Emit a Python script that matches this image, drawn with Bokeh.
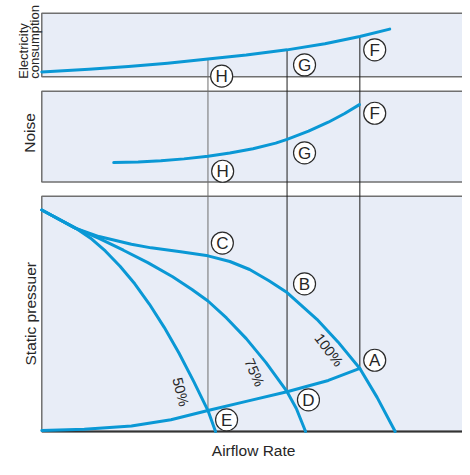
import numpy as np
from bokeh.plotting import figure
from bokeh.models import Range1d
from bokeh.core.properties import value
from bokeh.embed import file_html
from bokeh.resources import INLINE

# ---------------- data (airflow in % of panel width, values in % of panel height) -------------
elec_flow = [0, 11.2, 20.6, 29.9, 39.5, 48.6, 58.3, 67.3, 75.6, 82.7]
elec_val = [7.6, 11.9, 16.3, 21.5, 28.2, 34.4, 42.5, 52.1, 63.5, 75.2]

noise_flow = [17.1, 22.9, 28.3, 33.8, 39.5, 44.7, 50.2, 55.6, 58.3, 63.4, 68.1, 72.0, 75.5]
noise_val = [21.3, 21.9, 23.3, 25.4, 28.4, 31.8, 36.6, 42.8, 47.0, 56.0, 65.9, 75.5, 85.3]

p100_flow = [0, 8.1, 13.6, 21.3, 26.0, 33.0, 39.5, 44.7, 49.4, 54.0, 58.3, 65.4, 70.4, 75.6, 79.7, 84.0]
p100_val = [94.2, 86.4, 82.9, 79.6, 78.1, 76.4, 74.7, 72.3, 68.9, 64.1, 59.1, 47.7, 38.1, 26.8, 14.5, 0]

p75_flow = [0, 8.1, 13.6, 19.4, 25.2, 31.1, 35.7, 39.5, 43.9, 48.6, 53.3, 58.3, 60.5, 62.7]
p75_val = [94.2, 86.4, 82.1, 77.1, 71.8, 65.8, 60.4, 55.5, 48.3, 39.5, 29.3, 16.9, 9.8, 0]

p50_flow = [0, 8.1, 11.6, 15.1, 18.6, 22.1, 25.6, 29.1, 32.6, 36.1, 39.5, 41.3]
p50_val = [94.2, 86.4, 82.2, 76.8, 70.3, 62.8, 54.1, 44.3, 33.4, 21.3, 8.9, 0]

sys_flow = [0, 10.1, 21.3, 30.7, 39.5, 48.6, 58.3, 68.1, 75.6]
sys_val = [0.4, 0.95, 2.3, 5.0, 8.9, 12.8, 16.9, 21.7, 26.8]

# operating points (columns H/E, G/D, F/A)
op_flow = [39.5, 58.3, 75.6]
op_elec = [28.2, 42.5, 63.5]
op_pressure = [8.9, 16.9, 26.8]

# texts
p1_letters = ["H", "G", "F"]
p2_letters = ["F", "G", "H"]
p3_letters = ["C", "B", "A", "D", "E"]
pct_labels = ["100%", "75%", "50%"]
panel_titles = ["Noise", "Static pressuer"]
elec_title = ["Electricity", "consumption"]
x_title = "Airflow Rate"

# ---------------- layout (reference drawing units: 470 x 475) ---------------------------------
W, H = 462, 459
PX = 4.28                      # drawing units per airflow unit
X0 = -42 / PX
P1 = (396.0, 461.7)            # composite y extents of the panels
P2 = (287.3, 381.0)
P3 = (29.0, 272.3)


def Y(panel, v):
    lo, hi = panel
    return [lo + vv / 100.0 * (hi - lo) for vv in np.atleast_1d(v)]


def FX(px):   # drawing x -> flow units
    return (px - 42) / PX


def CY(py):   # drawing y (from top) -> composite y
    return 475 - py


BLUE = "#0a98d5"
BG = "#e8edf7"
FRAME = "#707070"
TXT = "#262626"
FONT = value("Liberation Sans")

p = figure(width=W, height=H, x_range=Range1d(X0, X0 + 470 / PX), y_range=Range1d(0, 475),
           output_backend="svg", toolbar_location=None, x_axis_type=None, y_axis_type=None,
           min_border=0, outline_line_color=None)

# panel backgrounds
for pan in (P1, P2, P3):
    p.quad(left=[0], right=[130], bottom=[pan[0]], top=[pan[1]], fill_color=BG,
           line_color=FRAME, line_width=1.5)
p.segment(x0=[0], y0=[P3[0]], x1=[130], y1=[P3[0]], line_color="#333333", line_width=2)

# vertical operating lines
p.segment(x0=op_flow, x1=op_flow, y0=Y(P1, op_elec), y1=Y(P3, op_pressure),
          line_color=["#6f6f6f", "#1e1e1e", "#1e1e1e"], line_width=1)

# curves
kw = dict(line_color=BLUE, line_width=3, line_cap="round", line_join="round")
p.line(elec_flow, Y(P1, elec_val), **kw)
p.line(noise_flow, Y(P2, noise_val), **kw)
p.line(p100_flow, Y(P3, p100_val), **kw)
p.line(p75_flow, Y(P3, p75_val), **kw)
p.line(p50_flow, Y(P3, p50_val), **kw)
p.line(sys_flow, Y(P3, sys_val), **kw)

# circled letters
circ_x = ([FX(225), FX(309.3), FX(380.7)] + [FX(380.7), FX(309.3), FX(226)] +
          [FX(225.7), FX(309.3), FX(380.7), FX(313.3), FX(230)])
circ_y = ([CY(78.3), CY(66.7), CY(51)] + [CY(116.7), CY(157.7), CY(176.7)] +
          [CY(251), CY(293.3), CY(372.3), CY(413.3), CY(434)])
letters = p1_letters + p2_letters + p3_letters
p.scatter(circ_x, circ_y, marker="circle", size=22, fill_color="white",
          line_color="#2a2a2a", line_width=1.2)
p.text(circ_x, [y - 0.6 for y in circ_y], text=letters, text_font=FONT, text_font_size="17px",
       text_align="center", text_baseline="middle", text_color=TXT)

# percentage labels
p.text([FX(334), FX(258.3), FX(183.3)], [CY(361.7), CY(385), CY(405)], text=pct_labels,
       angle=list(np.deg2rad([-53, -66, -76])), text_font=FONT, text_font_size="14.5px",
       text_align="center", text_baseline="middle", text_color=TXT)

# axis titles
p.text([FX(29), FX(31)], [CY(137), CY(324.2)], text=panel_titles, angle=[np.pi / 2] * 2,
       text_font=FONT, text_font_size="15.5px", text_align="center", text_baseline="middle",
       text_color=TXT)
p.text([FX(23.5), FX(34.5)], [CY(81), CY(81)], text=elec_title, angle=[np.pi / 2] * 2,
       text_font=FONT, text_font_size="13px", text_align="left", text_baseline="alphabetic",
       text_color=TXT)
p.text([FX(257.5)], [0.3], text=[x_title], text_font=FONT, text_font_size="15.5px",
       text_align="center", text_baseline="bottom", text_color=TXT)

open("out.html", "w").write(file_html(p, INLINE))
